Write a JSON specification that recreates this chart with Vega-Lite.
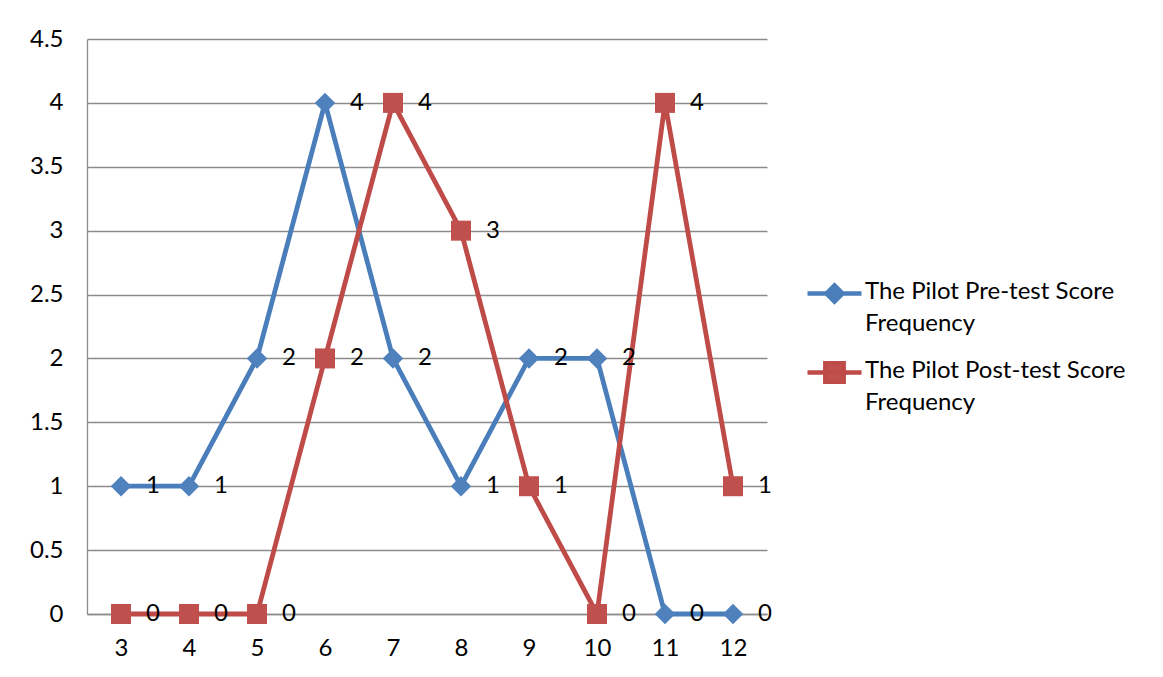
{
  "$schema": "https://vega.github.io/schema/vega-lite/v6.json",
  "autosize": {"type": "none"},
  "width": 680,
  "height": 575,
  "padding": {"left": 87, "top": 39, "right": 396, "bottom": 63},
  "background": "white",
  "config": {
    "font": "Lato",
    "view": {"stroke": null},
    "axis": {
      "labelFont": "Lato",
      "labelFontSize": 24,
      "labelColor": "black",
      "domainColor": "#8c8c8c",
      "domainWidth": 1.3,
      "gridColor": "#8c8c8c",
      "gridWidth": 1.3,
      "ticks": false,
      "title": null
    }
  },
  "data": {
    "values": [
      {"score": 3, "series": "The Pilot Pre-test Score Frequency", "freq": 1},
      {"score": 4, "series": "The Pilot Pre-test Score Frequency", "freq": 1},
      {"score": 5, "series": "The Pilot Pre-test Score Frequency", "freq": 2},
      {"score": 6, "series": "The Pilot Pre-test Score Frequency", "freq": 4},
      {"score": 7, "series": "The Pilot Pre-test Score Frequency", "freq": 2},
      {"score": 8, "series": "The Pilot Pre-test Score Frequency", "freq": 1},
      {"score": 9, "series": "The Pilot Pre-test Score Frequency", "freq": 2},
      {"score": 10, "series": "The Pilot Pre-test Score Frequency", "freq": 2},
      {"score": 11, "series": "The Pilot Pre-test Score Frequency", "freq": 0},
      {"score": 12, "series": "The Pilot Pre-test Score Frequency", "freq": 0},
      {"score": 3, "series": "The Pilot Post-test Score Frequency", "freq": 0},
      {"score": 4, "series": "The Pilot Post-test Score Frequency", "freq": 0},
      {"score": 5, "series": "The Pilot Post-test Score Frequency", "freq": 0},
      {"score": 6, "series": "The Pilot Post-test Score Frequency", "freq": 2},
      {"score": 7, "series": "The Pilot Post-test Score Frequency", "freq": 4},
      {"score": 8, "series": "The Pilot Post-test Score Frequency", "freq": 3},
      {"score": 9, "series": "The Pilot Post-test Score Frequency", "freq": 1},
      {"score": 10, "series": "The Pilot Post-test Score Frequency", "freq": 0},
      {"score": 11, "series": "The Pilot Post-test Score Frequency", "freq": 4},
      {"score": 12, "series": "The Pilot Post-test Score Frequency", "freq": 1}
    ]
  },
  "encoding": {
    "x": {
      "field": "score",
      "type": "ordinal",
      "scale": {"type": "point", "padding": 0.5},
      "axis": {"labelAngle": 0, "labelPadding": 22, "grid": false}
    },
    "y": {
      "field": "freq",
      "type": "quantitative",
      "scale": {"domain": [0, 4.5], "nice": false},
      "axis": {
        "values": [0, 0.5, 1, 1.5, 2, 2.5, 3, 3.5, 4, 4.5],
        "format": "~g",
        "labelPadding": 24,
        "grid": true
      }
    }
  },
  "layer": [
    {
      "mark": {"type": "line", "strokeWidth": 4.8},
      "encoding": {
        "color": {
          "field": "series",
          "type": "nominal",
          "scale": {
            "domain": ["The Pilot Pre-test Score Frequency", "The Pilot Post-test Score Frequency"],
            "range": ["#4A7EBB", "#BE4B48"]
          },
          "legend": {
            "title": null,
            "orient": "none",
            "legendX": 718,
            "legendY": 225,
            "symbolSize": 2916,
            "symbolStrokeWidth": 4.5,
            "labelFont": "Lato",
            "labelFontSize": 24,
            "labelColor": "black",
            "labelLimit": 500,
            "labelOffset": 1,
            "labelBaseline": "top",
            "rowPadding": 7,
            "labelExpr": "datum.label == 'The Pilot Pre-test Score Frequency' ? ['The Pilot Pre-test Score', 'Frequency'] : ['The Pilot Post-test Score', 'Frequency']",
            "encode": {
              "labels": {"update": {"lineHeight": {"value": 32}, "dy": {"value": -14}}},
              "symbols": {
                "update": {
                  "shape": {"signal": "datum.value == 'The Pilot Pre-test Score Frequency' ? 'M-1,0H1M-0.3,0L0,-0.3L0.3,0L0,0.3Z' : 'M-1,0H1M-0.34,-0.34H0.34V0.34H-0.34Z'"},
                  "fill": {"signal": "datum.value == 'The Pilot Pre-test Score Frequency' ? '#4F81BD' : '#C0504D'"},
                  "stroke": {"signal": "datum.value == 'The Pilot Pre-test Score Frequency' ? '#4A7EBB' : '#BE4B48'"},
                  "strokeWidth": {"value": 4.5},
                  "opacity": {"value": 1},
                  "fillOpacity": {"value": 1}
                }
              }
            }
          }
        }
      }
    },
    {
      "mark": {"type": "point", "filled": true, "opacity": 1},
      "encoding": {
        "shape": {
          "field": "series",
          "type": "nominal",
          "scale": {
            "domain": ["The Pilot Pre-test Score Frequency", "The Pilot Post-test Score Frequency"],
            "range": ["diamond", "square"]
          },
          "legend": null
        },
        "size": {
          "field": "series",
          "type": "nominal",
          "scale": {
            "domain": ["The Pilot Pre-test Score Frequency", "The Pilot Post-test Score Frequency"],
            "range": [420, 400]
          },
          "legend": null
        },
        "color": {
          "field": "series",
          "type": "nominal",
          "scale": {
            "domain": ["The Pilot Pre-test Score Frequency", "The Pilot Post-test Score Frequency"],
            "range": ["#4F81BD", "#C0504D"]
          },
          "legend": null
        }
      }
    },
    {
      "mark": {"type": "text", "dx": 32, "align": "center", "baseline": "middle", "fontSize": 24, "font": "Lato", "color": "black"},
      "encoding": {
        "text": {"field": "freq", "type": "quantitative"}
      }
    }
  ],
  "resolve": {"scale": {"color": "independent"}}
}
